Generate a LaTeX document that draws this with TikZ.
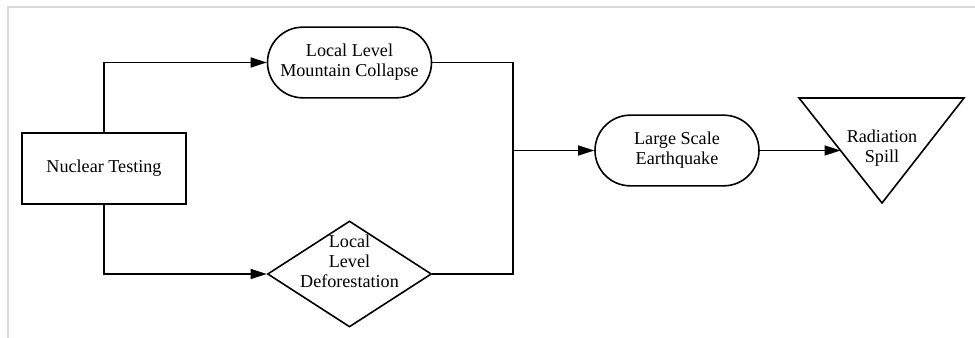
\documentclass[tikz,border=0pt]{standalone}
\usepackage{fontspec}
\setmainfont{Liberation Serif}
\usepackage{tikz}
\usetikzlibrary{shapes.geometric,shapes.misc,arrows.meta,calc}
\definecolor{FrameGray}{HTML}{D9D9D9}
\tikzset{
	box/.style={draw, line width=1.2pt, minimum width=123pt, minimum height=53pt, inner sep=0pt},
	pill/.style={box, rounded rectangle},
	rhomb/.style={box, diamond, minimum height=79.5pt},
	txt/.style={align=center, font=\fontsize{13.6}{15}\selectfont},
	flow/.style={line width=1.2pt, -{Triangle[length=12pt,width=7.5pt]}},
	link/.style={line width=1.2pt}
}

\begin{document}
\begin{tikzpicture}[x=0.75pt, y=-0.75pt]
		% Frame
		\useasboundingbox (0,0) rectangle (975,338);
		\draw[FrameGray, line width=0.8pt] (8,338) -- (8,7) -- (975,7);
		
		% Shapes
		\node[box] (test) at (104,168.5) {};
		\node[pill] (collapse) at (349.5,62.5) {};
		\node[rhomb] (defor) at (349.5,274) {};
		\node[pill] (quake) at (677,150.5) {};
		%% Triangle
		\coordinate (spill-l) at (799,98);
		\coordinate (spill-r) at (964,98);
		\coordinate (spill-b) at (882,203);
		\draw[link, line join=miter] (spill-l) -- (spill-r) -- (spill-b) -- cycle;
		
		% Nodes
		\node[txt] (test-t) at (test) {Nuclear Testing};
		\node[txt] (collapse-t) at (collapse) {Local Level\\Mountain Collapse};
		\node[txt] (defor-t) at (349.5,261) {Local\\Level\\Deforestation};
		\node[txt] (quake-t) at (quake) {Large Scale\\Earthquake};
		\node[txt] (spill-t) at (882,148) {Radiation\\Spill};
		
		% Connectors
		\coordinate (join) at (513,150.5);
		\coordinate (spill-in) at ($(spill-l)!0.5!(spill-b)$);
		\draw[flow] (test.north) |- (collapse.west);
		\draw[flow] (test.south) |- (defor.west);
		\draw[link] (collapse.east) -| (join) |- (defor.east);
		\draw[flow] (join) -- (quake.west);
		\draw[flow] (quake.east) -- (quake.east -| spill-in);
\end{tikzpicture}
\end{document}
